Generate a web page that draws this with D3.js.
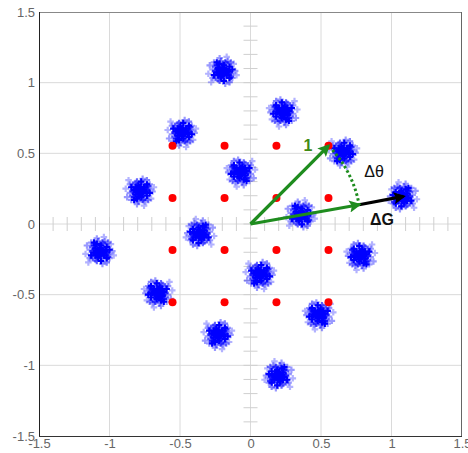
<!DOCTYPE html>
<html><head><meta charset="utf-8">
<script src="https://cdn.jsdelivr.net/npm/d3@7"></script>
<style>body{margin:0;background:#fff;}svg{display:block;font-family:"Liberation Sans",Arial,sans-serif;}</style>
</head><body>
<svg id="c" width="468" height="453"></svg>
<script>
// ---- data ----
const tickValues = [-1.5, -1, -0.5, 0, 0.5, 1, 1.5];
const tickLabels = ["-1.5", "-1", "-0.5", "0", "0.5", "1", "1.5"];
// ideal constellation points (red)
const idealX = [-0.553,-0.184,0.184,0.553,-0.553,-0.184,0.184,0.553,-0.553,-0.184,0.184,0.553,-0.553,-0.184,0.184,0.553];
const idealY = [0.553,0.553,0.553,0.553,0.184,0.184,0.184,0.184,-0.184,-0.184,-0.184,-0.184,-0.553,-0.553,-0.553,-0.553];
// measured cluster centres (blue)
const clusterX = [-0.199,0.232,0.655,1.080,-0.487,-0.068,0.355,0.782,-0.785,-0.358,0.066,0.487,-1.070,-0.655,-0.232,0.200];
const clusterY = [1.083,0.790,0.505,0.195,0.645,0.365,0.068,-0.225,0.230,-0.065,-0.360,-0.645,-0.192,-0.490,-0.785,-1.072];
// scatter of received symbols around each centre: dx, dy, opacity
const noise = [[0.00,0.01,1],[0.02,-0.01,1],[-0.02,0.02,1],[0.03,0.03,1],[-0.03,-0.02,1],[0.01,-0.04,1],[-0.01,0.04,1],[0.04,0.00,1],[-0.04,0.01,1],[0.02,0.05,0.5],
[-0.05,-0.03,0.5],[0.05,-0.03,1],[-0.02,-0.05,1],[0.06,0.02,0.5],[-0.06,0.03,1],[0.00,-0.02,1],[0.03,-0.05,0.4],[-0.03,0.06,0.4],[0.05,0.05,1],[-0.05,0.05,0.5],
[0.07,-0.01,1],[-0.07,-0.01,0.4],[0.01,0.07,1],[-0.01,-0.07,0.5],[0.04,-0.07,0.4],[-0.04,-0.06,1],[0.07,0.05,0.4],[-0.07,0.05,0.4],[0.09,0.00,0.4],[-0.09,-0.04,0.4],
[0.02,0.09,0.4],[-0.02,-0.09,0.4],[0.06,-0.06,0.5],[-0.06,-0.06,0.4],[0.10,0.03,0.3],[-0.08,0.08,0.3],[0.05,0.08,0.5],[0.08,-0.05,0.3],[-0.10,0.02,0.3],[0.03,-0.10,0.3],
[0.01,0.02,1],[-0.01,-0.01,1],[0.02,0.00,1],[-0.02,0.00,1],[0.00,0.03,1],[0.01,-0.02,1],[-0.03,0.03,1],[0.03,0.01,1],[-0.01,0.05,0.6],[0.04,0.03,0.6],
[0.05,0.01,0.8],[-0.04,-0.04,0.8],[0.02,-0.06,0.7],[-0.05,0.00,0.8],[0.06,0.04,0.7],[-0.02,0.07,0.6]];
// vectors
const vecIdeal = [0.553, 0.553];
const vecRot = [0.770, 0.136];
const vecMeas = [1.085, 0.195];
const arcR = 0.782, arcFrom = 45, arcTo = 10;

// ---- drawing ----
const svg = d3.select("#c");
const x = d3.scaleLinear().domain([-1.5, 1.5]).range([39, 462]);
const y = d3.scaleLinear().domain([-1.5, 1.5]).range([436, 12]);

const grid = svg.append("g");
tickValues.slice(1, -1).forEach(v => {
  grid.append("line").attr("x1", x(v)).attr("x2", x(v)).attr("y1", y(1.5)).attr("y2", y(-1.5)).attr("stroke", "#dadada");
  grid.append("line").attr("y1", y(v)).attr("y2", y(v)).attr("x1", x(-1.5)).attr("x2", x(1.5)).attr("stroke", "#dadada");
});
// centre minor ticks
const minor = d3.range(-14, 15).map(i => i / 10);
minor.forEach(v => {
  grid.append("line").attr("x1", x(0) - 7).attr("x2", x(0) + 7).attr("y1", y(v)).attr("y2", y(v)).attr("stroke", "#cfcfcf");
  grid.append("line").attr("y1", y(0) - 7).attr("y2", y(0) + 7).attr("x1", x(v)).attr("x2", x(v)).attr("stroke", "#cfcfcf");
});

// frame
svg.append("line").attr("x1", x(-1.5)).attr("x2", x(1.5)).attr("y1", y(1.5)+0.5).attr("y2", y(1.5)+0.5).attr("stroke", "#888");
svg.append("line").attr("x1", x(1.5)-0.5).attr("x2", x(1.5)-0.5).attr("y1", y(1.5)).attr("y2", y(-1.5)).attr("stroke", "#666");
svg.append("line").attr("x1", x(-1.5)+0.5).attr("x2", x(-1.5)+0.5).attr("y1", y(1.5)).attr("y2", y(-1.5)).attr("stroke", "#222");
svg.append("line").attr("x1", x(-1.5)).attr("x2", x(1.5)).attr("y1", y(-1.5)+0.5).attr("y2", y(-1.5)+0.5).attr("stroke", "#333");

// axis labels
const yAxis = d3.axisLeft(y).tickValues(tickValues).tickFormat((d, i) => tickLabels[i]).tickSize(0).tickPadding(4);
const gy = svg.append("g").attr("transform", `translate(${x(-1.5)},0)`).call(yAxis);
const xAxis = d3.axisBottom(x).tickValues(tickValues).tickFormat((d, i) => tickLabels[i]).tickSize(0).tickPadding(3);
const gx = svg.append("g").attr("transform", `translate(0,${y(-1.5)})`).call(xAxis);
[gx, gy].forEach(g => {
  g.select(".domain").remove();
  g.selectAll("text").attr("fill", "#666").style("font-size", "13px").style("font-family", "'Liberation Sans',Arial,sans-serif");
});

// received symbols
const pts = [];
clusterX.forEach((cx, i) => {
  const sx = i % 2 ? -1 : 1, sy = i % 3 ? 1 : -1;
  noise.forEach(n => pts.push({x: cx + sx * n[0], y: clusterY[i] + sy * n[1], a: n[2]}));
});
const sym = d3.symbol().type(d3.symbolCross).size(24);
svg.append("g").selectAll("path").data(pts).join("path")
  .attr("d", sym)
  .attr("transform", d => `translate(${x(d.x)},${y(d.y)})`)
  .attr("fill", "#0000ff").attr("fill-opacity", d => d.a);

// ideal points
svg.append("g").selectAll("circle").data(idealX).join("circle")
  .attr("cx", d => x(d)).attr("cy", (d, i) => y(idealY[i])).attr("r", 4).attr("fill", "#ff0000");

// arrows
const defs = svg.append("defs");
function marker(id, col) {
  defs.append("marker").attr("id", id).attr("viewBox", "0 0 10 10").attr("refX", 8).attr("refY", 5)
    .attr("markerWidth", 4.8).attr("markerHeight", 3.8).attr("markerUnits", "strokeWidth").attr("orient", "auto")
    .append("path").attr("d", "M0,0 L10,5 L0,10 L2,5 z").attr("fill", col);
}
marker("ag", "#1e8c1e");
marker("ak", "#000");
const green = "#1e8c1e";
svg.append("line").attr("x1", x(0)).attr("y1", y(0)).attr("x2", x(vecIdeal[0])).attr("y2", y(vecIdeal[1]))
  .attr("stroke", green).attr("stroke-width", 3.2).attr("marker-end", "url(#ag)");
svg.append("line").attr("x1", x(vecRot[0])).attr("y1", y(vecRot[1])).attr("x2", x(vecMeas[0])).attr("y2", y(vecMeas[1]))
  .attr("stroke", "#000").attr("stroke-width", 3.2).attr("marker-end", "url(#ak)");
svg.append("line").attr("x1", x(0)).attr("y1", y(0)).attr("x2", x(vecRot[0])).attr("y2", y(vecRot[1]))
  .attr("stroke", green).attr("stroke-width", 3.2).attr("marker-end", "url(#ag)");
const arcPts = d3.range(arcFrom - 3, arcTo - 0.1, -1).map(a => [x(arcR * Math.cos(a * Math.PI / 180)), y(arcR * Math.sin(a * Math.PI / 180))]);
svg.append("path").attr("d", d3.line()(arcPts)).attr("fill", "none").attr("stroke", green)
  .attr("stroke-width", 3).attr("stroke-dasharray", "2.5,2.5");

// labels
svg.append("text").attr("x", 308).attr("y", 151).attr("text-anchor", "middle").attr("fill", "#3f8a14")
  .style("font-size", "16px").style("font-weight", "bold").text("1");
svg.append("text").attr("x", 374).attr("y", 177).attr("text-anchor", "middle").attr("fill", "#111")
  .style("font-size", "16px").text("Δθ");
svg.append("text").attr("x", 382).attr("y", 225).attr("text-anchor", "middle").attr("fill", "#111")
  .style("font-size", "16px").style("font-weight", "bold").text("ΔG");
</script>
</body></html>
